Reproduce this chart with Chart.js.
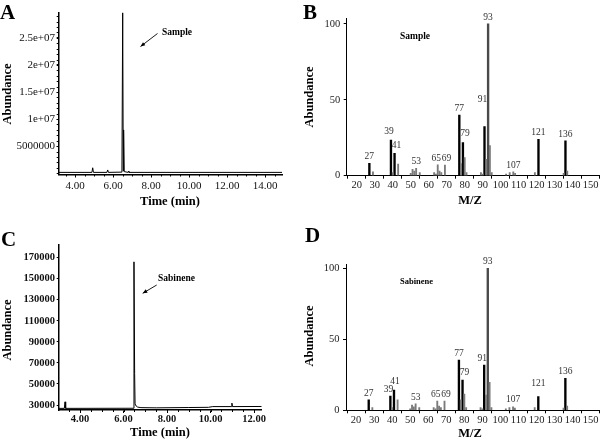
<!DOCTYPE html>
<html><head><meta charset="utf-8">
<script src="https://cdn.jsdelivr.net/npm/chart.js@4/dist/chart.umd.min.js"></script>
<style>
html,body{margin:0;padding:0;background:#fff;}
#wrap{position:relative;width:600px;height:443px;overflow:hidden;background:#fff;}
canvas{position:absolute;}
</style></head><body>
<div id="wrap">
<canvas id="cA" width="300" height="220" style="left:0;top:0"></canvas>
<canvas id="cB" width="300" height="220" style="left:300px;top:0"></canvas>
<canvas id="cC" width="300" height="223" style="left:0;top:220px"></canvas>
<canvas id="cD" width="300" height="223" style="left:300px;top:220px"></canvas>
</div>
<script>
// ---------- DATA ----------
// Panel A: total ion chromatogram of sample
const chromA_time  = [3.13, 4.88, 4.92, 4.96, 5.67, 5.71, 5.75, 6.46, 6.50, 6.53, 6.55, 6.58, 6.77, 6.80, 6.83, 14.89];
const chromA_abund = [1.5e5, 1.5e5, 1.0e6, 1.5e5, 1.5e5, 6e5, 1.5e5, 2e5, 2.97e7, 4e5, 8e6, 3e5, 1.5e5, 3.5e5, 1.5e5, 1.5e5];
const chromA_xTicks  = [4, 6, 8, 10, 12, 14];
const chromA_xLabels = ['4.00', '6.00', '8.00', '10.00', '12.00', '14.00'];
const chromA_yTicks  = [5e6, 1e7, 1.5e7, 2e7, 2.5e7];
const chromA_yLabels = ['5000000', '1e+07', '1.5e+07', '2e+07', '2.5e+07'];

// Panel C: chromatogram of sabinene standard
const chromC_time  = [3.02, 3.28, 3.31, 3.34, 6.44, 6.48, 6.51, 6.53, 6.58, 6.65, 6.80, 7.50, 9.00, 9.90, 10.10, 10.95, 10.98, 11.01, 12.35];
const chromC_abund = [26800, 26800, 33000, 26800, 26900, 166000, 60000, 31000, 29000, 28000, 27500, 27300, 27600, 27800, 28500, 28500, 31800, 28500, 28600];
const chromC_xTicks  = [4, 6, 8, 10, 12];
const chromC_xLabels = ['4.00', '6.00', '8.00', '10.00', '12.00'];
const chromC_yTicks  = [30000, 50000, 70000, 90000, 110000, 130000, 150000, 170000];
const chromC_yLabels = ['30000', '50000', '70000', '90000', '110000', '130000', '150000', '170000'];

// Mass spectra (B: sample, D: sabinene)
const mzMajor = [27, 39, 41, 77, 79, 91, 93, 121, 136];
const specB_major = [8.2, 23.5, 14.8, 40, 21.8, 32.3, 100, 24, 23];
const specD_major = [7.3, 10, 14.3, 35.4, 21.3, 31.9, 100, 9.6, 22.5];
const mzMinor = [29, 40, 43, 50, 51, 52, 53, 55, 63, 64, 65, 66, 67, 69, 78, 80, 81, 89, 90, 92, 94, 95, 103, 105, 107, 108, 119, 135, 137];
const specB_minor = [2.5, 2, 7.7, 1.5, 4.2, 3, 4.9, 2, 2, 1, 7.1, 3, 2, 7, 8, 12, 2, 2, 1, 10.8, 19.8, 2, 1, 2, 2.6, 1.5, 2, 1.5, 3];
const specD_minor = [2, 2, 7.3, 1, 3.7, 2.5, 4.5, 2, 2, 1, 6.5, 3, 2, 6.5, 7.3, 11.5, 2, 2, 1, 10.8, 19.7, 2, 1, 2, 2.5, 1.5, 2, 1.5, 3];
const peakLabels = [27, 39, 41, 53, 65, 69, 77, 79, 91, 93, 107, 121, 136];
const spec_xTicks = [20, 30, 40, 50, 60, 70, 80, 90, 100, 110, 120, 130, 140, 150];
const spec_yTicks = [0, 50, 100];

// ---------- STYLE / LAYOUT ----------
const SERIF = '"Liberation Serif","DejaVu Serif",serif';

function decor(offX, offY, items) {
  return {
    id: 'decor',
    afterDraw(chart) {
      const ctx = chart.ctx;
      ctx.save();
      for (const it of items) {
        if (it.type === 'text') {
          ctx.save();
          ctx.font = it.font;
          ctx.fillStyle = it.color || '#000';
          ctx.textAlign = it.align || 'center';
          ctx.textBaseline = it.baseline || 'middle';
          ctx.translate(it.x - offX, it.y - offY);
          if (it.rotate) ctx.rotate(it.rotate);
          ctx.fillText(it.text, 0, 0);
          ctx.restore();
        } else if (it.type === 'arrow') {
          const x1 = it.x1 - offX, y1 = it.y1 - offY, x2 = it.x2 - offX, y2 = it.y2 - offY;
          ctx.strokeStyle = '#000'; ctx.fillStyle = '#000'; ctx.lineWidth = 0.9;
          ctx.beginPath(); ctx.moveTo(x1, y1); ctx.lineTo(x2, y2); ctx.stroke();
          const a = Math.atan2(y2 - y1, x2 - x1), L = 5, w = 0.4;
          ctx.beginPath(); ctx.moveTo(x2, y2);
          ctx.lineTo(x2 - L * Math.cos(a - w), y2 - L * Math.sin(a - w));
          ctx.lineTo(x2 - L * Math.cos(a + w), y2 - L * Math.sin(a + w));
          ctx.closePath(); ctx.fill();
        }
      }
      ctx.restore();
    }
  };
}

function minorTicks(xStep, yStep, len) {
  return {
    id: 'minor',
    afterDraw(chart) {
      const ctx = chart.ctx, xs = chart.scales.x, ys = chart.scales.y;
      ctx.save(); ctx.strokeStyle = '#000'; ctx.lineWidth = 1;
      ctx.beginPath();
      if (xStep) {
        const b = ys.bottom;
        for (let v = Math.ceil(xs.min / xStep) * xStep; v <= xs.max; v += xStep) {
          const p = Math.round(xs.getPixelForValue(v)) + 0.5;
          ctx.moveTo(p, b); ctx.lineTo(p, b + len);
        }
      }
      if (yStep) {
        const l = xs.left;
        for (let v = Math.ceil(ys.min / yStep) * yStep; v <= ys.max; v += yStep) {
          if (v < 0) continue;
          const p = Math.round(ys.getPixelForValue(v)) + 0.5;
          ctx.moveTo(l, p); ctx.lineTo(l - len, p);
        }
      }
      ctx.stroke(); ctx.restore();
    }
  };
}

function axisCommon(o) {
  return {
    type: 'linear', min: o.min, max: o.max, offset: false,
    afterBuildTicks: s => { s.ticks = o.ticks.map(v => ({ value: v })); },
    ticks: {
      autoSkip: false, maxRotation: 0, minRotation: 0,
      font: o.font, color: o.color || '#111', padding: o.padding,
      callback: v => { const i = o.ticks.indexOf(v); return i >= 0 ? o.labels[i] : ''; }
    },
    grid: { display: true, drawOnChartArea: false, drawTicks: true, tickLength: o.tl, color: '#000', lineWidth: 1 },
    border: { display: true, color: '#000', width: o.bw },
    afterFit: o.fit
  };
}

const baseOpts = {
  responsive: false, animation: false, events: [],
  plugins: { legend: { display: false }, tooltip: { enabled: false } }
};

function chrom(id, time, abund, cfg) {
  new Chart(document.getElementById(id), {
    type: 'line',
    data: { datasets: [{ data: time.map((t, i) => ({ x: t, y: abund[i] })), borderColor: '#000', borderWidth: 1, pointRadius: 0, tension: 0, fill: false }] },
    options: Object.assign({}, baseOpts, {
      layout: { padding: cfg.pad },
      scales: { x: axisCommon(cfg.x), y: axisCommon(cfg.y) }
    }),
    plugins: [minorTicks(cfg.xMinor, cfg.yMinor, 2), decor(cfg.offX, cfg.offY, cfg.items)]
  });
}

function spectrum(id, major, minor, cfg) {
  const majorColors = mzMajor.map(m => m === 93 ? '#4a4a4a' : '#000');
  const labelPlugin = {
    id: 'peaklabels',
    afterDatasetsDraw(chart) {
      const ctx = chart.ctx, xs = chart.scales.x, ys = chart.scales.y;
      ctx.save();
      ctx.font = '9.5px ' + SERIF; ctx.fillStyle = '#333';
      ctx.textAlign = 'center'; ctx.textBaseline = 'bottom';
      for (const m of peakLabels) {
        let i = mzMajor.indexOf(m), v;
        if (i >= 0) v = major[i]; else v = minor[mzMinor.indexOf(m)];
        const off = (cfg.labelOff && cfg.labelOff[m]) || [0, 0];
        ctx.fillText(String(m), xs.getPixelForValue(m) + off[0], ys.getPixelForValue(v) - 2 + off[1]);
      }
      ctx.restore();
    }
  };
  new Chart(document.getElementById(id), {
    type: 'bar',
    data: { datasets: [
      { data: mzMinor.map((m, i) => ({ x: m, y: minor[i] })), backgroundColor: '#7a7a7a', barThickness: 1.2, grouped: false },
      { data: mzMajor.map((m, i) => ({ x: m, y: major[i] })), backgroundColor: majorColors, barThickness: 1.7, grouped: false }
    ] },
    options: Object.assign({}, baseOpts, {
      layout: { padding: cfg.pad },
      scales: { x: axisCommon(cfg.x), y: axisCommon(cfg.y) }
    }),
    plugins: [labelPlugin, decor(cfg.offX, cfg.offY, cfg.items)]
  });
}

const tickFontA = { family: SERIF, size: 11 };
const tickFontC = { family: SERIF, size: 10.5, weight: 'bold' };
const tickFontS = { family: SERIF, size: 10.5 };
const titleFont = 'bold 12.5px ' + SERIF;
const letterFont = 'bold 21px ' + SERIF;
const ROT = -Math.PI / 2;

// Panel A
chrom('cA', chromA_time, chromA_abund, {
  offX: 0, offY: 0, xMinor: 0.5, yMinor: 1e6,
  pad: { left: 0, top: 12.7, right: 18, bottom: 0 },
  x: { min: 3.13, max: 14.89, ticks: chromA_xTicks, labels: chromA_xLabels, font: tickFontA, padding: 2, tl: 3, bw: 1.5, fit: s => { s.height = 45.5; } },
  y: { min: -2.4e5, max: 2.965e7, ticks: chromA_yTicks, labels: chromA_yLabels, font: tickFontA, padding: 1.7, tl: 2, bw: 1.5, fit: s => { s.width = 58.7; } },
  items: [
    { type: 'text', text: 'A', x: 0, y: 18.5, font: letterFont, align: 'left', baseline: 'alphabetic' },
    { type: 'text', text: 'Abundance', x: 8, y: 94, font: titleFont, rotate: ROT },
    { type: 'text', text: 'Time (min)', x: 170, y: 202, font: titleFont },
    { type: 'text', text: 'Sample', x: 162, y: 33, font: 'bold 9.5px ' + SERIF, align: 'left' },
    { type: 'arrow', x1: 157.5, y1: 33.5, x2: 140.5, y2: 46.5 }
  ]
});

// Panel B
spectrum('cB', specB_major, specB_minor, {
  offX: 300, offY: 0,
  pad: { left: 0, top: 18.3, right: 0, bottom: 0 },
  x: { min: 14.4, max: 155.2, ticks: spec_xTicks, labels: spec_xTicks.map(String), font: tickFontS, color: '#222', padding: 0, tl: 3, bw: 1, fit: s => { s.height = 44.3; } },
  y: { min: 0, max: 103.7, ticks: spec_yTicks, labels: spec_yTicks.map(String), font: tickFontS, color: '#222', padding: 3.5, tl: 3, bw: 1, fit: s => { s.width = 46.7; } },
  labelOff: { 91: [-2, -20], 39: [-2, -2], 41: [2, -1], 79: [2, -2], 65: [-1.5, 0], 69: [1.5, 0] },
  items: [
    { type: 'text', text: 'B', x: 303, y: 18.5, font: letterFont, align: 'left', baseline: 'alphabetic' },
    { type: 'text', text: 'Abundance', x: 310, y: 97, font: titleFont, rotate: ROT },
    { type: 'text', text: 'M/Z', x: 470, y: 201, font: titleFont },
    { type: 'text', text: 'Sample', x: 400, y: 36.7, font: 'bold 9.5px ' + SERIF, align: 'left' }
  ]
});

// Panel C
chrom('cC', chromC_time, chromC_abund, {
  offX: 0, offY: 220, xMinor: 0.5, yMinor: 0,
  pad: { left: 0, top: 25, right: 38.3, bottom: 0 },
  x: { min: 3.02, max: 12.35, ticks: chromC_xTicks, labels: chromC_xLabels, font: tickFontC, padding: 0, tl: 3, bw: 1.5, fit: s => { s.height = 33; } },
  y: { min: 25250, max: 182000, ticks: chromC_yTicks, labels: chromC_yLabels, font: tickFontC, padding: 1.7, tl: 2, bw: 1.5, fit: s => { s.width = 58.7; } },
  items: [
    { type: 'text', text: 'C', x: 1, y: 245.5, font: letterFont, align: 'left', baseline: 'alphabetic' },
    { type: 'text', text: 'Abundance', x: 8, y: 330, font: titleFont, rotate: ROT },
    { type: 'text', text: 'Time (min)', x: 160, y: 433, font: titleFont },
    { type: 'text', text: 'Sabinene', x: 158, y: 278.3, font: 'bold 9.5px ' + SERIF, align: 'left' },
    { type: 'arrow', x1: 156.7, y1: 285, x2: 142.7, y2: 293.3 }
  ]
});

// Panel D
spectrum('cD', specD_major, specD_minor, {
  offX: 300, offY: 220,
  pad: { left: 0, top: 44, right: 0, bottom: 0 },
  x: { min: 14.4, max: 155.2, ticks: spec_xTicks, labels: spec_xTicks.map(String), font: tickFontS, color: '#222', padding: 0.4, tl: 3, bw: 1, fit: s => { s.height = 32.7; } },
  y: { min: 0, max: 103, ticks: spec_yTicks, labels: spec_yTicks.map(String), font: tickFontS, color: '#222', padding: 3.5, tl: 3, bw: 1, fit: s => { s.width = 46; } },
  labelOff: { 39: [-2, 0], 41: [1, -2], 79: [2, -1], 91: [-2, 0], 121: [0, -6], 65: [-1.5, 0], 69: [1.5, 0] },
  items: [
    { type: 'text', text: 'D', x: 305, y: 241.5, font: letterFont, align: 'left', baseline: 'alphabetic' },
    { type: 'text', text: 'Abundance', x: 310, y: 336, font: titleFont, rotate: ROT },
    { type: 'text', text: 'M/Z', x: 470, y: 434, font: titleFont },
    { type: 'text', text: 'Sabinene', x: 400, y: 281.7, font: 'bold 8.5px ' + SERIF, align: 'left' }
  ]
});
</script>
</body></html>
